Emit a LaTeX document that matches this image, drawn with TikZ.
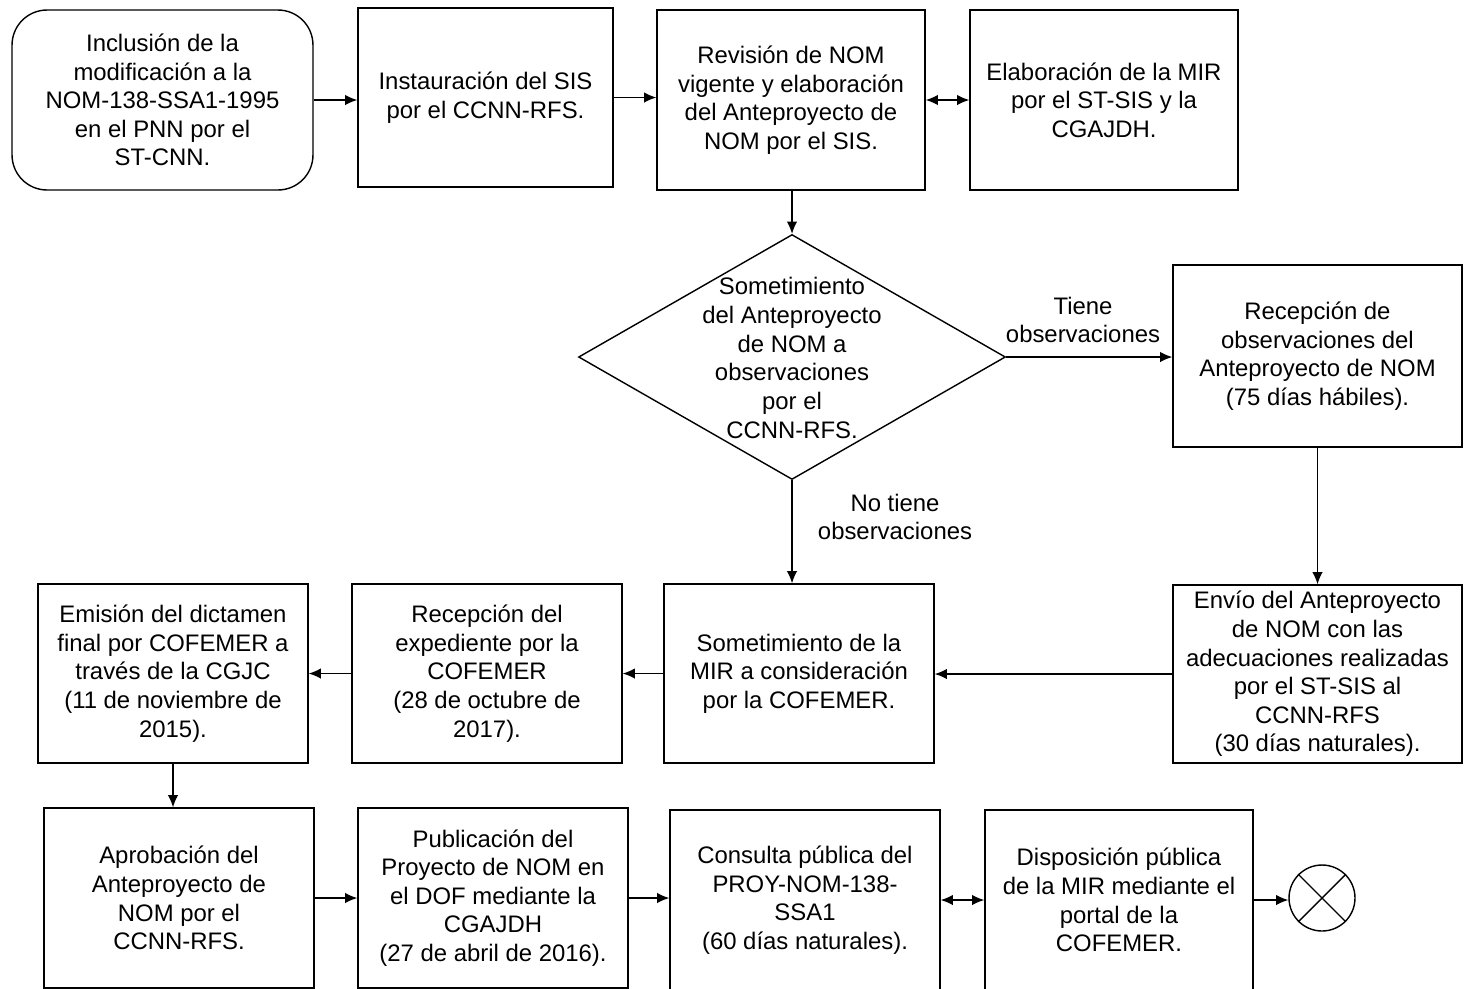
\documentclass[tikz,border=0pt]{standalone}
\usepackage{fontspec}
\setmainfont{Liberation Sans}
\usetikzlibrary{shapes.geometric,positioning,calc,arrows.meta}

\begin{document}
\begin{tikzpicture}
  [x=0.02cm,y=-0.02cm,>={Latex[length=7pt,width=6pt]},line width=0.8pt,
   txt/.style={align=center,font=\fontsize{13.6}{16.3}\selectfont},
   box/.style={txt,draw,minimum width=5.4cm,minimum height=3.6cm,inner sep=2pt},
   decision/.style={draw,diamond,minimum width=8.54cm,minimum height=4.9cm,inner sep=0pt},
   endnode/.style={draw,circle,minimum size=1.32cm,inner sep=0pt}]

  \clip (0,0) rectangle (1464,988);

  % first row
  \node[box,rounded corners=0.7cm,minimum width=6.02cm] (inc) at (162.5,100)
    {Inclusión de la\\modificación a la\\NOM-138-SSA1-1995\\en el PNN por el\\ST-CNN.};
  \node[box,minimum width=5.1cm,minimum height=3.58cm] (ins) at (485.5,97.5)
    {Instauración del SIS\\por el CCNN-RFS.};
  \node[box,minimum width=5.36cm] (rev) at (791,100)
    {Revisión de NOM\\vigente y elaboración\\del Anteproyecto de\\NOM por el SIS.};
  \node[box,minimum width=5.36cm] (ela) at (1104,100)
    {Elaboración de la MIR\\por el ST-SIS y la\\CGAJDH.};

  % decision
  \node[decision] (dec) at (792,357) {};
  \node[txt] (dectxt) at (792,358)
    {Sometimiento\\del Anteproyecto\\de NOM a\\observaciones\\por el\\CCNN-RFS.};
  \node[box,minimum width=5.78cm,minimum height=3.64cm] (rec) at (1317.5,356)
    {Recepción de\\observaciones del\\Anteproyecto de NOM\\(75 días hábiles).};

  % second row
  \node[box,minimum width=5.78cm,minimum height=3.56cm] (env) at (1317.5,674)
    {Envío del Anteproyecto\\de NOM con las\\adecuaciones realizadas\\por el ST-SIS al\\CCNN-RFS\\(30 días naturales).};
  \node[box,minimum height=3.58cm] (mir) at (799,673.5)
    {Sometimiento de la\\MIR a consideración\\por la COFEMER.};
  \node[box,minimum height=3.58cm] (exp) at (487,673.5)
    {Recepción del\\expediente por la\\COFEMER\\(28 de octubre de\\2017).};
  \node[box,minimum height=3.58cm] (emi) at (173,673.5)
    {Emisión del dictamen\\final por COFEMER a\\través de la CGJC\\(11 de noviembre de\\2015).};

  % third row
  \node[box] (apr) at (179,898)
    {Aprobación del\\Anteproyecto de\\NOM por el\\CCNN-RFS.};
  \node[box] (pub) at (493,898)
    {Publicación del\\Proyecto de NOM en\\el DOF mediante la\\CGAJDH\\(27 de abril de 2016).};
  \node[box] (con) at (805,900)
    {Consulta pública del\\PROY-NOM-138-\\SSA1\\(60 días naturales).};
  \node[box,minimum width=5.36cm] (dis) at (1119,900)
    {Disposición pública\\de la MIR mediante el\\portal de la\\COFEMER.};
  \node[endnode] (fin) at (1322,898) {};
  \draw (fin.north west) -- (fin.south east) (fin.north east) -- (fin.south west);

  % branch labels
  \node[txt] (tiene) at (1083,320) {Tiene\\observaciones};
  \node[txt] (notiene) at (895,517) {No tiene\\observaciones};

  % connectors
  \draw[->] (inc) -- (inc -| ins.west);
  \draw[->] (ins) -- (ins -| rev.west);
  \draw[<->] (rev) -- (rev -| ela.west);
  \draw[->] (dec.north |- rev.south) -- (dec.north);
  \draw[->] (dec.east) -- (dec.east -| rec.west);
  \draw[->] (rec.south) -- (env.north);
  \draw[->] (dec.south) -- (dec.south |- mir.north);
  \draw[->] (env.west) -- (env.west -| mir.east);
  \draw[->] (mir.west) -- (mir.west -| exp.east);
  \draw[->] (exp.west) -- (exp.west -| emi.east);
  \draw[->] (emi.south) -- (emi.south |- apr.north);
  \draw[->] (apr.east) -- (apr.east -| pub.west);
  \draw[->] (pub.east) -- (pub.east -| con.west);
  \draw[<->] (con.east) -- (con.east -| dis.west);
  \draw[->] (dis.east) -- (dis.east -| fin.west);
\end{tikzpicture}
\end{document}
